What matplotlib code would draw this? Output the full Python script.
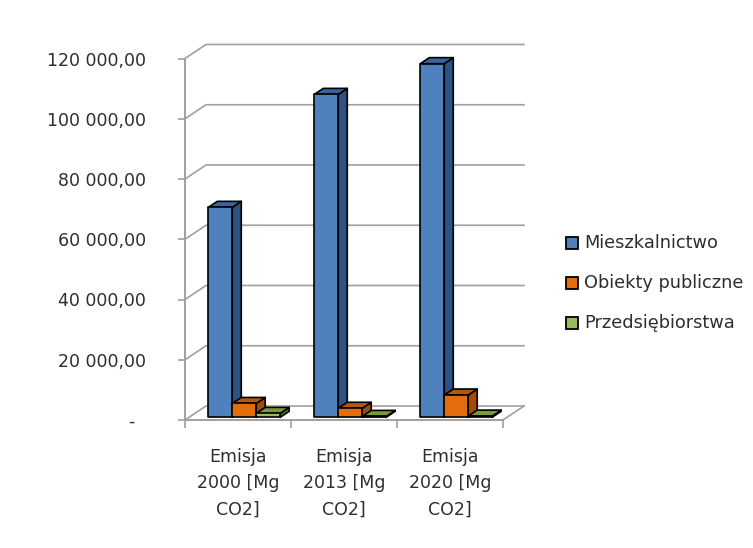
import matplotlib.pyplot as plt
from matplotlib.patches import Polygon, Rectangle

plt.rcParams['font.family'] = ['DejaVu Sans']

categories = ["Emisja\n2000 [Mg\nCO2]", "Emisja\n2013 [Mg\nCO2]", "Emisja\n2020 [Mg\nCO2]"]
series = ["Mieszkalnictwo", "Obiekty publiczne", "Przedsiębiorstwa"]
mieszkalnictwo = [69700, 107200, 117400]
obiekty_publiczne = [4600, 3000, 7400]
przedsiebiorstwa = [1300, 300, 400]
yticks = [0, 20000, 40000, 60000, 80000, 100000, 120000]

# front / top / side shades for each series
front_colors = ["#4F81BD", "#E46C0A", "#9BBB59"]
top_colors = ["#3A64A0", "#B95708", "#7A9A3E"]
side_colors = ["#2E5283", "#A14B07", "#5F7B2E"]

GRID = "#A0A0A0"
TEXT = "#2E2E2E"
DX = 0.198    # depth offset along x (category units)
DY = 4650     # depth offset along y (value units)
BAR_W = 0.226
BAR_START = 0.182
D0, D1 = 0.19, 0.62   # bar depth span as fraction of the floor depth


def fmt(v):
    if v == 0:
        return "-  "
    return f"{v:,.2f}".replace(",", " ").replace(".", ",")


def bar3d(ax, x0, w, v, fc, tc, sc):
    ox0, oy0 = D0 * DX, D0 * DY
    ox1, oy1 = D1 * DX, D1 * DY
    side = [(x0 + w + ox0, oy0), (x0 + w + ox1, oy1),
            (x0 + w + ox1, v + oy1), (x0 + w + ox0, v + oy0)]
    top = [(x0 + ox0, v + oy0), (x0 + w + ox0, v + oy0),
           (x0 + w + ox1, v + oy1), (x0 + ox1, v + oy1)]
    front = [(x0 + ox0, oy0), (x0 + w + ox0, oy0),
             (x0 + w + ox0, v + oy0), (x0 + ox0, v + oy0)]
    for pts, c in ((side, sc), (top, tc), (front, fc)):
        ax.add_patch(Polygon(pts, closed=True, facecolor=c, edgecolor="black",
                             linewidth=1.2, joinstyle="round", clip_on=False, zorder=3))


fig = plt.figure(figsize=(7.53, 5.48), dpi=100)
ax = fig.add_axes([185 / 753, 128 / 548, 318 / 753, 361.5 / 548])
ax.set_xlim(0, 3)
ax.set_ylim(0, 120000)
ax.patch.set_visible(False)

# back wall + side wall gridlines (the 0 line is the back edge of the floor)
for v in yticks:
    ax.plot([0, DX, 3 + DX], [v, v + DY, v + DY], color=GRID, lw=1.2,
            clip_on=False, zorder=1)
ax.plot([3, 3 + DX], [0, DY], color=GRID, lw=1.2, clip_on=False, zorder=1)

for s in ("top", "right"):
    ax.spines[s].set_visible(False)
for s in ("left", "bottom"):
    ax.spines[s].set_color(GRID)
    ax.spines[s].set_linewidth(1.4)
    ax.spines[s].set_zorder(2)

values = [mieszkalnictwo, obiekty_publiczne, przedsiebiorstwa]
for i in range(len(categories)):
    for j, vals in enumerate(values):
        x0 = i + BAR_START + j * BAR_W
        bar3d(ax, x0, BAR_W, vals[i], front_colors[j], top_colors[j], side_colors[j])

ax.set_yticks(yticks, [fmt(v) for v in yticks])
ax.tick_params(axis="y", length=5, width=1.2, color=GRID, pad=23,
               labelsize=12.5, labelcolor=TEXT)

ax.set_xticks([0.5, 1.5, 2.5], categories)
ax.set_xticks([0, 1, 2, 3], minor=True)
ax.tick_params(axis="x", which="major", length=0, pad=20, labelsize=12.5,
               labelcolor=TEXT)
ax.tick_params(axis="x", which="minor", length=6, width=1.2, color=GRID)
for lab in ax.get_xticklabels():
    lab.set_linespacing(1.6)

# legend on the right
for k, name in enumerate(series):
    yc = 243 + 40 * k
    fig.add_artist(Rectangle((566 / 753, 1 - (yc + 6) / 548), 12 / 753, 12 / 548,
                             transform=fig.transFigure, facecolor=front_colors[k],
                             edgecolor="black", linewidth=1.3))
    fig.text(584 / 753, 1 - yc / 548, name, fontsize=12.8, color=TEXT,
             va="center", ha="left")

fig.savefig("out.png", dpi=100, facecolor="white")
